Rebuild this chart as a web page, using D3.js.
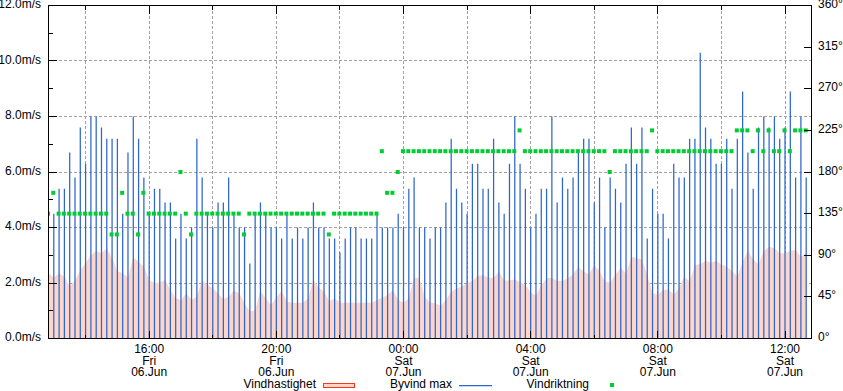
<!DOCTYPE html>
<html><head><meta charset="utf-8">
<script src="https://cdn.jsdelivr.net/npm/d3@7"></script>
<style>
body{margin:0;background:#fff}
svg{display:block}
text{font-family:"Liberation Sans",Arial,Helvetica,sans-serif;font-size:12px;fill:#000}
</style>
</head><body>
<svg id="c" width="843" height="391"></svg>
<script>
// ---- data (10-minute samples) ----
const domainStart = Date.UTC(2025, 5, 6, 12, 50);
const domainEnd   = Date.UTC(2025, 5, 7, 12, 50);
const sampleStart = Date.UTC(2025, 5, 6, 12, 50); // windSpeed & windDir
const gustStart   = Date.UTC(2025, 5, 6, 13, 0);  // gustMax
const stepMinutes = 10;

const windSpeed = [
 2.35,2.2,2.35,2.23,1.87,2.1,2.47,2.71,3.0,3.15,
 3.07,3.25,2.89,2.43,2.35,2.2,2.93,2.77,2.59,2.11,
 1.99,2.03,2.11,1.75,1.45,1.39,1.63,1.39,1.51,2.11,
 1.93,1.81,1.63,1.41,1.51,1.72,1.63,1.27,0.97,1.03,
 1.71,1.45,1.21,1.48,1.71,1.33,1.29,1.29,1.29,1.45,
 2.12,1.83,1.69,1.33,1.45,1.29,1.29,1.29,1.29,1.29,
 1.29,1.29,1.39,1.48,1.57,1.75,1.39,1.29,1.45,2.2,
 2.17,1.51,1.29,1.27,1.18,1.39,1.69,1.79,1.87,1.99,
 2.07,2.25,2.29,2.19,2.19,2.41,2.09,2.09,2.13,2.03,
 1.93,1.66,1.54,1.93,2.17,2.19,2.07,2.07,2.17,2.31,
 2.59,2.41,2.31,2.65,2.43,2.05,2.01,2.31,2.55,2.35,
 2.95,2.89,2.85,2.29,1.63,1.59,1.75,1.77,1.59,1.81,
 2.23,2.05,2.65,2.68,2.8,2.73,2.8,2.67,2.59,2.43,
 2.23,2.77,3.17,2.85,2.68,3.15,3.31,3.25,3.07,3.07,
 3.15,3.19,2.95,3.07
];

const gustMax = [
 4.5,5.4,5.4,6.7,5.8,7.6,6.3,8.0,8.0,7.6,
 7.2,7.2,7.2,4.5,6.7,8.0,7.2,5.8,4.5,5.4,
 5.4,4.9,4.9,3.6,4.5,3.6,4.0,7.2,5.8,4.5,
 4.0,4.9,4.9,5.8,4.5,4.0,4.0,2.7,4.5,4.9,
 4.5,4.0,4.0,3.6,4.5,3.6,4.0,3.6,4.0,4.9,
 4.0,4.0,3.6,3.6,3.1,3.6,4.0,4.0,3.6,3.6,
 3.6,4.5,4.0,4.0,4.0,4.5,4.0,5.4,5.8,4.0,
 4.0,3.6,4.0,4.0,4.9,7.2,5.4,4.9,4.5,6.3,
 6.3,5.4,5.4,7.2,4.9,4.5,6.3,8.0,6.3,5.4,
 4.0,4.5,5.4,5.4,8.0,4.9,5.8,5.4,5.8,6.7,
 7.2,7.2,4.9,5.8,4.0,5.8,5.4,4.9,6.3,7.6,
 6.3,7.6,3.6,5.4,4.5,4.5,3.6,6.3,5.8,5.8,
 7.2,7.2,10.3,7.6,7.2,6.3,6.3,7.2,5.4,7.2,
 8.9,6.7,5.4,7.6,8.0,7.6,8.0,7.2,7.6,8.9,
 5.8,8.0,5.8
];

const windDir = [
 135,157.5,135,135,135,135,135,135,135,135,
 135,135,112.5,112.5,157.5,135,135,112.5,157.5,135,
 135,135,135,135,135,180,135,112.5,135,135,
 135,135,135,135,135,135,135,112.5,135,135,
 135,135,135,135,135,135,135,135,135,135,
 135,135,135,112.5,135,135,135,135,135,135,
 135,135,135,202.5,157.5,157.5,180,202.5,202.5,202.5,
 202.5,202.5,202.5,202.5,202.5,202.5,202.5,202.5,202.5,202.5,
 202.5,202.5,202.5,202.5,202.5,202.5,202.5,202.5,202.5,225,
 202.5,202.5,202.5,202.5,202.5,202.5,202.5,202.5,202.5,202.5,
 202.5,202.5,202.5,202.5,202.5,202.5,180,202.5,202.5,202.5,
 202.5,202.5,202.5,202.5,225,202.5,202.5,202.5,202.5,202.5,
 202.5,202.5,202.5,202.5,202.5,202.5,202.5,202.5,202.5,202.5,
 225,225,225,202.5,225,202.5,225,202.5,202.5,225,
 202.5,225,225,225
];

const speedTicks = [0,2,4,6,8,10,12];
const speedMinorTicks = [1,3,5,7,9,11];
const dirTicks = [0,45,90,135,180,225,270,315,360];
const legendLabels = ["Vindhastighet","Byvind max","Vindriktning"];

// ---- layout ----
const L = 48.5, R = 811.5, T = 5.5, B = 338.5;
const svg = d3.select("#c");
const x = d3.scaleUtc().domain([domainStart, domainEnd]).range([L, R]);
const y = d3.scaleLinear().domain([0, 12]).range([B, T]);
const yd = d3.scaleLinear().domain([0, 360]).range([B, T]);
const ms = stepMinutes * 60000;

const speedData = windSpeed.map((v, i) => ({t: sampleStart + i * ms, v}));
const dirData = windDir.map((v, i) => ({t: sampleStart + i * ms, v}));
const gustData = gustMax.map((v, i) => ({t: gustStart + i * ms, v}));

const gridColor = "#a0a0a0";
const fmtHM = d3.utcFormat("%H:%M"), fmtDay = d3.utcFormat("%a"), fmtDate = d3.utcFormat("%d.%b");
const ticks2h = x.ticks(d3.utcHour.every(2)).filter(t => x(t) > L + 1 && x(t) < R - 1);
const ticks4h = ticks2h.filter(t => t.getUTCHours() % 4 === 0);
const snap = v => Math.round(v - 0.5) + 0.5;

// grid
const grid = svg.append("g").attr("stroke", gridColor).attr("stroke-dasharray", "3,2")
  .attr("shape-rendering", "crispEdges");
grid.selectAll(".gv").data(ticks2h).join("line")
  .attr("x1", d => snap(x(d))).attr("x2", d => snap(x(d))).attr("y1", T).attr("y2", B);
grid.selectAll(".gh").data(speedTicks.filter(v => v > 0 && v < 12)).join("line")
  .attr("x1", L).attr("x2", R).attr("y1", d => snap(y(d))).attr("y2", d => snap(y(d)));

const clip = svg.append("clipPath").attr("id", "pc").append("rect")
  .attr("x", L).attr("y", T).attr("width", R - L).attr("height", B - T);
const plot = svg.append("g").attr("clip-path", "url(#pc)");

// area: wind speed
plot.append("path").datum(speedData)
  .attr("fill", "#fdd6cb")
  .attr("d", d3.area().x(d => x(d.t)).y0(y(0)).y1(d => y(d.v)));

// gust bars
plot.append("g").attr("stroke", "#2d66cc").attr("stroke-width", 1.25)
  .selectAll("line").data(gustData).join("line")
  .attr("x1", d => x(d.t)).attr("x2", d => x(d.t))
  .attr("y1", y(0)).attr("y2", d => y(d.v));

// wind direction points
plot.append("g").attr("fill", "#00cc33")
  .selectAll("rect").data(dirData).join("rect")
  .attr("x", d => x(d.t) - 2.5).attr("y", d => yd(d.v) - 2).attr("width", 4).attr("height", 4);

// border & ticks
const ax = svg.append("g").attr("stroke", "#000").attr("shape-rendering", "crispEdges");
ax.append("rect").attr("x", L).attr("y", T).attr("width", R - L).attr("height", B - T).attr("fill", "none");
ax.selectAll(".lt").data(speedTicks).join("line")
  .attr("x1", L).attr("x2", L + 8).attr("y1", d => snap(y(d))).attr("y2", d => snap(y(d)));
ax.selectAll(".lm").data(speedMinorTicks).join("line")
  .attr("x1", L).attr("x2", L + 4).attr("y1", d => snap(y(d))).attr("y2", d => snap(y(d)));
ax.selectAll(".rt").data(dirTicks).join("line")
  .attr("x1", R - 8).attr("x2", R).attr("y1", d => snap(yd(d))).attr("y2", d => snap(yd(d)));
ax.selectAll(".tt").data(ticks2h).join("line")
  .attr("x1", d => snap(x(d))).attr("x2", d => snap(x(d)))
  .attr("y1", T).attr("y2", d => T + (d.getUTCHours() % 4 === 0 ? 8 : 4));
ax.selectAll(".bt").data(ticks2h).join("line")
  .attr("x1", d => snap(x(d))).attr("x2", d => snap(x(d)))
  .attr("y1", B).attr("y2", d => B - (d.getUTCHours() % 4 === 0 ? 8 : 4));

// labels
svg.append("g").selectAll("text").data(speedTicks).join("text")
  .attr("x", 41).attr("y", d => y(d) + 2.5).attr("text-anchor", "end")
  .text(d => d.toFixed(1) + "m/s");
svg.append("g").selectAll("text").data(dirTicks).join("text")
  .attr("x", 818).attr("y", d => yd(d) + 2.5).attr("text-anchor", "start")
  .text(d => d + "°");
const xl = svg.append("g").selectAll("g").data(ticks4h).join("g")
  .attr("transform", d => `translate(${x(d)},0)`);
xl.append("text").attr("y", 353).attr("text-anchor", "middle").text(d => fmtHM(d));
xl.append("text").attr("y", 364.5).attr("text-anchor", "middle").text(d => fmtDay(d));
xl.append("text").attr("y", 376).attr("text-anchor", "middle").text(d => fmtDate(d));

// legend
const lg = svg.append("g");
lg.append("text").attr("x", 316).attr("y", 387.5).attr("text-anchor", "end").text(legendLabels[0]);
lg.append("rect").attr("x", 323.5).attr("y", 383.5).attr("width", 31).attr("height", 4)
  .attr("fill", "#fdd6cb").attr("stroke", "#f03c14").attr("stroke-width", 1);
lg.append("text").attr("x", 452).attr("y", 387.5).attr("text-anchor", "end").text(legendLabels[1]);
lg.append("line").attr("x1", 459).attr("x2", 492).attr("y1", 385.5).attr("y2", 385.5)
  .attr("stroke", "#2d66cc").attr("stroke-width", 1.25);
lg.append("text").attr("x", 589).attr("y", 387.5).attr("text-anchor", "end").text(legendLabels[2]);
lg.append("rect").attr("x", 610).attr("y", 383).attr("width", 4).attr("height", 4).attr("fill", "#00cc33");
</script>
</body></html>
